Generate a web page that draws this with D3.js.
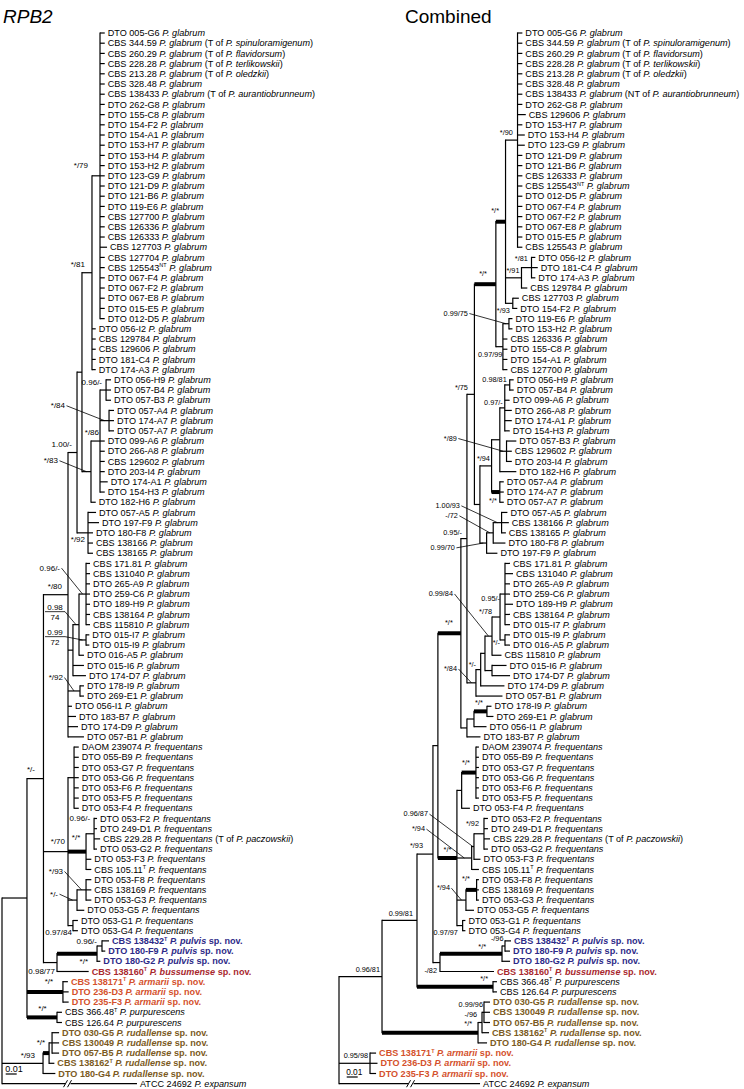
<!DOCTYPE html>
<html><head><meta charset="utf-8">
<script src="https://cdn.jsdelivr.net/npm/d3@7"></script>
<style>body{margin:0;background:#fff}svg{display:block}</style>
</head><body><svg id="c" width="744" height="1089"></svg>
<script>
// ---------------- DATA ----------------
const leavesRPB2 = [
"DTO 005-G6 _P. glabrum_","CBS 344.59 _P. glabrum_ (T of _P. spinuloramigenum_)","CBS 260.29 _P. glabrum_ (T of _P. flavidorsum_)",
"CBS 228.28 _P. glabrum_ (T of _P. terlikowskii_)","CBS 213.28 _P. glabrum_ (T of _P. oledzkii_)","CBS 328.48 _P. glabrum_",
"CBS 138433 _P. glabrum_ (T of _P. aurantiobrunneum_)","DTO 262-G8 _P. glabrum_","DTO 155-C8 _P. glabrum_","DTO 154-F2 _P. glabrum_",
"DTO 154-A1 _P. glabrum_","DTO 153-H7 _P. glabrum_","DTO 153-H4 _P. glabrum_","DTO 153-H2 _P. glabrum_","DTO 123-G9 _P. glabrum_",
"DTO 121-D9 _P. glabrum_","DTO 121-B6 _P. glabrum_","DTO 119-E6 _P. glabrum_","CBS 127700 _P. glabrum_","CBS 126336 _P. glabrum_",
"CBS 126333 _P. glabrum_","CBS 127703 _P. glabrum_","CBS 127704 _P. glabrum_","CBS 125543{NT} _P. glabrum_","DTO 067-F4 _P. glabrum_",
"DTO 067-F2 _P. glabrum_","DTO 067-E8 _P. glabrum_","DTO 015-E5 _P. glabrum_","DTO 012-D5 _P. glabrum_","DTO 056-I2 _P. glabrum_",
"CBS 129784 _P. glabrum_","CBS 129606 _P. glabrum_","DTO 181-C4 _P. glabrum_","DTO 174-A3 _P. glabrum_","DTO 056-H9 _P. glabrum_",
"DTO 057-B4 _P. glabrum_","DTO 057-B3 _P. glabrum_","DTO 057-A4 _P. glabrum_","DTO 174-A7 _P. glabrum_","DTO 057-A7 _P. glabrum_",
"DTO 099-A6 _P. glabrum_","DTO 266-A8 _P. glabrum_","CBS 129602 _P. glabrum_","DTO 203-I4 _P. glabrum_","DTO 174-A1 _P. glabrum_",
"DTO 154-H3 _P. glabrum_","DTO 182-H6 _P. glabrum_","DTO 057-A5 _P. glabrum_","DTO 197-F9 _P. glabrum_","DTO 180-F8 _P. glabrum_",
"CBS 138166 _P. glabrum_","CBS 138165 _P. glabrum_","CBS 171.81 _P. glabrum_","CBS 131040 _P. glabrum_","DTO 265-A9 _P. glabrum_",
"DTO 259-C6 _P. glabrum_","DTO 189-H9 _P. glabrum_","CBS 138164 _P. glabrum_","CBS 115810 _P. glabrum_","DTO 015-I7 _P. glabrum_",
"DTO 015-I9 _P. glabrum_","DTO 016-A5 _P. glabrum_","DTO 015-I6 _P. glabrum_","DTO 174-D7 _P. glabrum_","DTO 178-I9 _P. glabrum_",
"DTO 269-E1 _P. glabrum_","DTO 056-I1 _P. glabrum_","DTO 183-B7 _P. glabrum_","DTO 174-D9 _P. glabrum_","DTO 057-B1 _P. glabrum_",
"DAOM 239074 _P. frequentans_","DTO 055-B9 _P. frequentans_","DTO 053-G7 _P. frequentans_","DTO 053-G6 _P. frequentans_",
"DTO 053-F6 _P. frequentans_","DTO 053-F5 _P. frequentans_","DTO 053-F4 _P. frequentans_","DTO 053-F2 _P. frequentans_",
"DTO 249-D1 _P. frequentans_","CBS 229.28 _P. frequentans_ (T of _P. paczowskii_)","DTO 053-G2 _P. frequentans_",
"DTO 053-F3 _P. frequentans_","CBS 105.11{T} _P. frequentans_","DTO 053-F8 _P. frequentans_","CBS 138169 _P. frequentans_",
"DTO 053-G3 _P. frequentans_","DTO 053-G5 _P. frequentans_","DTO 053-G1 _P. frequentans_","DTO 053-G4 _P. frequentans_",
"CBS 138432{T} _P. pulvis_ sp. nov.","DTO 180-F9 _P. pulvis_ sp. nov.","DTO 180-G2 _P. pulvis_ sp. nov.",
"CBS 138160{T} _P. bussumense_ sp. nov.","CBS 138171{T} _P. armarii_ sp. nov.","DTO 236-D3 _P. armarii_ sp. nov.",
"DTO 235-F3 _P. armarii_ sp. nov.","CBS 366.48{T} _P. purpurescens_","CBS 126.64 _P. purpurescens_",
"DTO 030-G5 _P. rudallense_ sp. nov.","CBS 130049 _P. rudallense_ sp. nov.","DTO 057-B5 _P. rudallense_ sp. nov.",
"CBS 138162{T} _P. rudallense_ sp. nov.","DTO 180-G4 _P. rudallense_ sp. nov.","ATCC 24692 _P. expansum_"];

const leavesCombined = [
"DTO 005-G6 _P. glabrum_","CBS 344.59 _P. glabrum_ (T of _P. spinuloramigenum_)","CBS 260.29 _P. glabrum_ (T of _P. flavidorsum_)",
"CBS 228.28 _P. glabrum_ (T of _P. terlikowskii_)","CBS 213.28 _P. glabrum_ (T of _P. oledzkii_)","CBS 328.48 _P. glabrum_",
"CBS 138433 _P. glabrum_ (NT of _P. aurantiobrunneum_)","DTO 262-G8 _P. glabrum_","CBS 129606 _P. glabrum_","DTO 153-H7 _P. glabrum_",
"DTO 153-H4 _P. glabrum_","DTO 123-G9 _P. glabrum_","DTO 121-D9 _P. glabrum_","DTO 121-B6 _P. glabrum_","CBS 126333 _P. glabrum_",
"CBS 125543{NT} _P. glabrum_","DTO 012-D5 _P. glabrum_","DTO 067-F4 _P. glabrum_","DTO 067-F2 _P. glabrum_","DTO 067-E8 _P. glabrum_",
"DTO 015-E5 _P. glabrum_","CBS 125543 _P. glabrum_","DTO 056-I2 _P. glabrum_","DTO 181-C4 _P. glabrum_","DTO 174-A3 _P. glabrum_",
"CBS 129784 _P. glabrum_","CBS 127703 _P. glabrum_","DTO 154-F2 _P. glabrum_","DTO 119-E6 _P. glabrum_","DTO 153-H2 _P. glabrum_",
"CBS 126336 _P. glabrum_","DTO 155-C8 _P. glabrum_","DTO 154-A1 _P. glabrum_","CBS 127700 _P. glabrum_","DTO 056-H9 _P. glabrum_",
"DTO 057-B4 _P. glabrum_","DTO 099-A6 _P. glabrum_","DTO 266-A8 _P. glabrum_","DTO 174-A1 _P. glabrum_","DTO 154-H3 _P. glabrum_",
"DTO 057-B3 _P. glabrum_","CBS 129602 _P. glabrum_","DTO 203-I4 _P. glabrum_","DTO 182-H6 _P. glabrum_","DTO 057-A4 _P. glabrum_",
"DTO 174-A7 _P. glabrum_","DTO 057-A7 _P. glabrum_","DTO 057-A5 _P. glabrum_","CBS 138166 _P. glabrum_","CBS 138165 _P. glabrum_",
"DTO 180-F8 _P. glabrum_","DTO 197-F9 _P. glabrum_","CBS 171.81 _P. glabrum_","CBS 131040 _P. glabrum_","DTO 265-A9 _P. glabrum_",
"DTO 259-C6 _P. glabrum_","DTO 189-H9 _P. glabrum_","CBS 138164 _P. glabrum_","DTO 015-I7 _P. glabrum_","DTO 015-I9 _P. glabrum_",
"DTO 016-A5 _P. glabrum_","CBS 115810 _P. glabrum_","DTO 015-I6 _P. glabrum_","DTO 174-D7 _P. glabrum_","DTO 174-D9 _P. glabrum_",
"DTO 057-B1 _P. glabrum_","DTO 178-I9 _P. glabrum_","DTO 269-E1 _P. glabrum_","DTO 056-I1 _P. glabrum_","DTO 183-B7 _P. glabrum_",
"DAOM 239074 _P. frequentans_","DTO 055-B9 _P. frequentans_","DTO 053-G7 _P. frequentans_","DTO 053-G6 _P. frequentans_",
"DTO 053-F6 _P. frequentans_","DTO 053-F5 _P. frequentans_","DTO 053-F4 _P. frequentans_","DTO 053-F2 _P. frequentans_",
"DTO 249-D1 _P. frequentans_","CBS 229.28 _P. frequentans_ (T of _P. paczowskii_)","DTO 053-G2 _P. frequentans_",
"DTO 053-F3 _P. frequentans_","CBS 105.11{T} _P. frequentans_","DTO 053-F8 _P. frequentans_","CBS 138169 _P. frequentans_",
"DTO 053-G3 _P. frequentans_","DTO 053-G5 _P. frequentans_","DTO 053-G1 _P. frequentans_","DTO 053-G4 _P. frequentans_",
"CBS 138432{T} _P. pulvis_ sp. nov.","DTO 180-F9 _P. pulvis_ sp. nov.","DTO 180-G2 _P. pulvis_ sp. nov.",
"CBS 138160{T} _P. bussumense_ sp. nov.","CBS 366.48{T} _P. purpurescens_","CBS 126.64 _P. purpurescens_",
"DTO 030-G5 _P. rudallense_ sp. nov.","CBS 130049 _P. rudallense_ sp. nov.","DTO 057-B5 _P. rudallense_ sp. nov.",
"CBS 138162{T} _P. rudallense_ sp. nov.","DTO 180-G4 _P. rudallense_ sp. nov.","CBS 138171{T} _P. armarii_ sp. nov.",
"DTO 236-D3 _P. armarii_ sp. nov.","DTO 235-F3 _P. armarii_ sp. nov.","ATCC 24692 _P. expansum_"];

// topologies (leaf numbers refer to the leaf arrays; branch lengths in 0.001 substitutions/site)
const treeRPB2 = "((((((((1:4.3,2:4.3,3:4.3,4:4.3,5:4.3,6:4.3,7:4.3,8:4.3,9:4.3,10:4.3,11:4.3,12:4.3,13:4.3,14:4.3,15:4.3,16:4.3,17:4.3,18:4.3,19:4.3,20:4.3,21:4.3,22:6.4,23:4.3,24:4.3,25:4.3,26:4.3,27:4.3,28:4.3,29:4.3)Cl1:7.3,30:3.4,31:3.4,32:3.4,33:3.4,34:3.4)A:9.1,(((35:4.5,36:4.5,37:4.5)C1:5.5,(38:4.5,39:4.5,40:4.5)C3:8.2,41:4.3,42:4.3,43:4.3,44:4.3,45:7.0,46:4.3)C2:8.2,47:4.3)C:8.2)B:4.5,(48:7.3,49:10.0,50:4.5,51:4.5,52:4.5)E:10.0)D:8.2,(((53:3.6,54:3.6,55:3.6,56:3.6,57:3.6,58:3.6,59:3.6)G1:6.4,(60:3.0,61:3.0)G2:6.4,62:4.5)G3:5.5,63:10.0,64:11.8)G4:4.5,(65:3.6,66:3.6)H:10.9,67:3.6,68:7.3,69:9.1,70:14.5)F:22.3,((71:4.3,72:4.3,73:4.3,74:4.3,75:4.3,76:4.3,77:4.3)Fq1:5.5,((78:2.7,79:2.7,80:5.5,81:2.7)X:7.3,82:4.8,83:4.8)Fq2:16.4,((84:4.8,85:4.8,86:4.8)Y:8.2,87:6.6)Fq3:8.2,(88:4.5,89:4.5)Fq4:4.5)Fq:22.3,(((90:6.4,91:3.0)Ps:4.5,92:3.0)P:36.4,93:28.8)PB:12.3)Na:15.0,(94:4.5,95:5.2,96:5.2)Arm:32.7,(97:4.5,98:4.5)Pur:27.3)Nm:22.7,(((99:6.4,100:6.4,101:6.4)Rp:2.7,102:4.8)Rq:5.5,103:11.2)R1:37.3,104:122.7)root";

const treeCombined = "(((((((((((1:4.4,2:4.4,3:4.4,4:4.4,5:4.4,6:4.4,7:4.4,8:4.4,9:7.5,10:4.4,11:6.6,12:6.6,13:4.4,14:4.4,15:4.4,16:4.4,17:4.4,18:4.4,19:4.4,20:4.4,21:4.4,22:4.4)Ra:10.9,((23:3.5,24:5.7,25:3.5)M2:9.1,26:5.3)M1:14.5,(27:5.5,28:4.1)M3:6.6)M0:8.8,((29:3.2,30:3.2)M6:5.5,31:4.1,32:4.1,33:4.1,34:4.1)M5:6.4)M4:19.5,(((((35:3.6,36:3.6)N2:4.5,37:4.5,38:6.4,39:6.4,40:4.5)N3:4.5,(41:8.9,42:4.8,43:4.8)N4:6.1,44:15.0)N5:7.5,(45:3.6,46:3.6,47:3.6)N7:7.5)N6:10.6,(((48:5.3,49:6.6,50:3.9)O1:7.6,51:11.1)O2:6.0,52:9.8)O3:6.1)N8:5.0)M7:6.8,((((((53:4.5,54:7.3,55:4.5,56:4.5,57:7.3,58:4.5,59:4.5)K1:4.5,(60:4.5,61:4.5)K2:4.5)K3:7.3,62:8.6)K4:6.4,(63:13.2,64:16.4)K5:6.4)K6:3.9,65:21.6)K7:4.3,66:24.1)K8:8.2)Q1:5.5,(((67:4.1,68:5.9)L1:11.8,69:11.4)L2:6.4,70:12.3)L3:5.5)G:20.9,(((71:2.7,72:2.7,73:2.7,74:2.7,75:2.7,76:2.7)S1:13.0,77:7.5)S2:4.3,(((78:3.6,79:3.6,80:5.5,81:3.6)S3:9.1,82:5.9)S4:2.1,83:6.6)S5:13.4,((84:2.1,85:2.1,86:2.1)S6a:9.7,87:7.3)S6:8.2,(88:2.5,89:2.5)S7:5.2)Fr:17.3)NcA:4.5,(((90:5.5,91:4.5)P2:2.7,92:7.3)P1:56.4,93:49.1)N82:6.4)Nc3:14.5,(94:3.6,95:3.6)Pur:69.1)Nc2:31.8,(((96:5.5,97:5.5,98:5.5)R3:1.8,99:6.4)R2:3.6,100:8.2)R1:87.3)Nc1:39.1,(101:5.5,102:6.8,103:5.5)Arm:28.2,104:128.2)root";

// support values (posterior probability / bootstrap)
const supportRPB2 = {Cl1:"*/79",A:"*/81",C1:"0.96/-",C3:"*/84",C2:"*/86",C:"*/83",D:"1.00/-",E:"*/92",F:"*/80",
  G1:"0.96/-",G3:"0.98/74",G2:"0.99/72",H:"*/92",Fq:"*/70",Fq2:"*/*",X:"0.96/-",Y:"*/93",Fq3:"*/-",Fq4:"0.97/84",
  Ps:"0.96/-",P:"*/*",PB:"0.98/77",Na:"*/-",Arm:"*/*",Pur:"*/*",Rq:"*/*",R1:"*/93"};
const supportCombined = {Ra:"*/90",M0:"*/*",M1:"*/91",M2:"*/81",M3:"*/93",M4:"*/*",M6:"0.99/75",M5:"0.97/99",M7:"*/75",
  N2:"0.98/81",N3:"0.97/-",N4:"*/89",N6:"*/94",N7:"*/*",O1:"1.00/93",O2:"-/72",Q1:"0.95/-",O3:"0.99/70",K1:"0.95/-",
  K3:"*/78",K4:"0.99/84",K2:"*/-",K7:"*/-",K8:"*/84",L1:"*/*",G:"*/*",S1:"*/*",S3:"*/92",S4:"0.96/87",S5:"*/94",
  Fr:"*/*",S6a:"*/*",S6:"*/94",S7:"0.97/97",Nc3:"*/93",P1:"*/*",P2:"-/96",N82:"-/82",Nc2:"0.99/81",Pur:"*/*",
  Nc1:"0.96/81",R1:"*/*",R2:"-/96",R3:"0.99/96",Arm:"0.95/98"};
const titles = ["RPB2","Combined"];
const scaleBarValue = 0.01;

// ---------------- LAYOUT (label placement relative to node) ----------------
const placeRPB2 = {Cl1:[-12,-7.5,"end"],A:[-7,-6,"end"],C1:[-4,-5,"end"],C3:[-44,-12.5,"end",1],C2:[-1,-6,"end"],
  C:[-33,-8.5,"end",1],D:[-5,-6,"end"],E:[-3,9,"end"],F:[-6,-6,"end"],G1:[-26,-23.5,"end",1],G3:[-14,-13,"stack"],
  G2:[-21,-3.3,"stack"],H:[-17,-11,"end",1],Fq:[-3,-7.6,"end"],Fq2:[-10,-12,"middle"],X:[-4,-13,"end"],
  Y:[-23,-16,"end",1],Fq3:[-19,-3.5,"end",1],Fq4:[-1,9,"end"],Ps:[-5,-2,"end"],P:[-9,10,"end"],PB:[-2,11,"end"],
  Na:[-8.5,-7,"end"],Arm:[-14,-7.4,"middle"],Pur:[-14.5,-6,"middle"],Rq:[-4,-8,"end"],R1:[-8,-5,"end"]};
const placeCombined = {Ra:[-4.7,-5.5,"end"],M0:[-10.4,-9,"middle"],M1:[-2,-5,"end"],M2:[-3.7,-7,"end"],M3:[-3,9.5,"end"],
  M4:[-9,-8,"end"],M6:[-41,-8,"end",1],M5:[-0.5,10,"end"],M7:[-6.5,-4.5,"end"],N2:[-3,-3.3,"end"],N3:[-2,-3.3,"end"],
  N4:[-49.7,-10.5,"end",1],N6:[-1.7,-5.2,"end"],N7:[-3,10.7,"end"],O1:[-41.7,-14.6,"end",1],O2:[-35.3,-14.8,"end",1],
  Q1:[-5,-3.6,"end"],O3:[-31.7,7,"end",1],K1:[-5,7,"end"],K3:[-8,-3,"end"],K4:[-39,-40,"end",1],K2:[-5,5,"end"],
  K7:[-4.7,-3,"end"],K8:[-19,-11.7,"end",1],L1:[-8,-6.2,"middle"],G:[-12,-8,"middle"],S1:[-10,-7.3,"middle"],
  S3:[-5,-7.4,"end"],S4:[-46,-30.2,"end",1],S5:[-46.7,-26.7,"end",1],Fr:[-9.5,-6,"middle"],S6a:[-10.7,-8.5,"middle"],
  S6:[-16,-9.7,"end",1],S7:[-4.7,9.8,"end"],Nc3:[-10,-5.8,"end"],P1:[-16,-5,"end"],P2:[-1.5,-4.6,"end"],
  N82:[-3,10.8,"end"],Nc2:[-4,-4.1,"end"],Pur:[-5,-5.4,"end"],Nc1:[-2,-4.8,"end"],R1:[-6,-6.4,"end"],
  R2:[-5,-5.2,"end"],R3:[-1,-5,"end"],Arm:[-2,-5.7,"end"]};

const newSpeciesColor = {pulvis:"#2d2a87", bussumense:"#a8282e", armarii:"#d4512c", rudallense:"#7b5a22"};
const FONT = "'Liberation Sans', Arial, Helvetica, sans-serif";

// ---------------- CODE ----------------
function parseNewick(s) {
  s = s.replace(/\s+/g, "");
  let i = 0;
  function node() {
    const n = {children: null, name: "", length: 0};
    if (s[i] === "(") {
      i++; n.children = [];
      for (;;) {
        n.children.push(node());
        if (s[i] === ",") { i++; continue; }
        if (s[i] === ")") { i++; break; }
        throw new Error("bad newick at " + i);
      }
    }
    let name = "";
    while (i < s.length && !":,();".includes(s[i])) name += s[i++];
    n.name = name;
    if (s[i] === ":") {
      i++; let num = "";
      while (i < s.length && !",();".includes(s[i])) num += s[i++];
      n.length = +num;
    }
    return n;
  }
  return node();
}

const svg = d3.select("#c");

function richText(sel, str, size) {
  const parts = str.split(/(_[^_]+_|\{[^}]+\})/).filter(p => p.length);
  let shifted = false;
  parts.forEach(p => {
    const t = sel.append("tspan");
    if (shifted) { t.attr("dy", size * 0.38); shifted = false; }
    if (p[0] === "_") t.text(p.slice(1, -1)).attr("font-style", "italic");
    else if (p[0] === "{") { t.text(p.slice(1, -1)).attr("font-size", size * 0.6).attr("dy", -size * 0.38); shifted = true; }
    else t.text(p);
  });
}

function drawTree(cfg) {
  const g = svg.append("g");
  const root = d3.hierarchy(parseNewick(cfg.newick), d => d.children);
  root.eachBefore(d => { d.len = d.parent ? d.parent.len + d.data.length : 0; });
  const x = d3.scaleLinear().domain([0, 10]).range([cfg.x0, cfg.x0 + cfg.pxPerHundredth]);
  const y = d3.scaleLinear().domain([1, cfg.leaves.length]).range([cfg.yTop, cfg.yBottom]);
  root.eachAfter(d => {
    d.px = x(d.len);
    d.py = d.children ? (d.children[0].py + d.children[d.children.length - 1].py) / 2 : y(+d.data.name);
  });
  const lineW = 1.2;
  const isThick = d => cfg.support[d.data.name] === "*/*";
  root.descendants().filter(d => d.children).forEach(d => {
    g.append("line").attr("x1", d.px).attr("x2", d.px)
      .attr("y1", d.children[0].py - lineW / 2).attr("y2", d.children[d.children.length - 1].py + lineW / 2)
      .attr("stroke", "#000").attr("stroke-width", lineW);
  });
  root.descendants().filter(d => d.parent).forEach(d => {
    g.append("line").attr("x1", d.parent.px).attr("x2", d.px).attr("y1", d.py).attr("y2", d.py)
      .attr("stroke", "#000").attr("stroke-width", isThick(d) ? 4 : lineW);
  });
  // break on outgroup branch
  const out = root.leaves().find(d => +d.data.name === cfg.leaves.length);
  const bx = x(cfg.breakAt), by = out.py;
  g.append("rect").attr("x", bx - 2.5).attr("y", by - 2).attr("width", 5).attr("height", 4).attr("fill", "#fff");
  [-3, 1].forEach(o => g.append("line").attr("x1", bx + o - 1.5).attr("y1", by + 3.5).attr("x2", bx + o + 2.5).attr("y2", by - 3.5)
      .attr("stroke", "#000").attr("stroke-width", 1));
  // leaf labels
  root.leaves().forEach(d => {
    const str = cfg.leaves[+d.data.name - 1];
    const sp = Object.keys(newSpeciesColor).find(k => str.includes(k));
    const t = g.append("text").attr("x", d.px + 3).attr("y", d.py + 3.2)
      .attr("font-family", FONT).attr("font-size", 9.1)
      .attr("fill", sp ? newSpeciesColor[sp] : "#000").attr("font-weight", sp ? "bold" : "normal");
    richText(t, str, 9.1);
  });
  // support labels
  root.descendants().filter(d => cfg.support[d.data.name]).forEach(d => {
    const lab = cfg.support[d.data.name];
    const [dx, dy, anchor, leader] = cfg.place[d.data.name] || [-3, -3, "end"];
    const lx = d.px + dx, ly = d.py + dy;
    const tx = (d.parent.px + d.px) / 2;
    if (anchor === "stack") {
      const [a, b] = lab.split("/");
      g.append("text").attr("x", lx - 10).attr("y", ly - 1.6).attr("text-anchor", "middle")
        .attr("font-family", FONT).attr("font-size", cfg.supSize).text(a);
      g.append("text").attr("x", lx - 10).attr("y", ly + 8).attr("text-anchor", "middle")
        .attr("font-family", FONT).attr("font-size", cfg.supSize).text(b);
      g.append("polyline").attr("points", `${lx - 20},${ly} ${lx},${ly} ${tx},${d.py}`)
        .attr("fill", "none").attr("stroke", "#000").attr("stroke-width", 0.8);
      return;
    }
    g.append("text").attr("x", lx).attr("y", ly).attr("text-anchor", anchor)
      .attr("font-family", FONT).attr("font-size", cfg.supSize).text(lab);
    if (leader) {
      g.append("line").attr("x1", lx + 1.5).attr("y1", ly - cfg.supSize * 0.3).attr("x2", tx).attr("y2", d.py)
        .attr("stroke", "#000").attr("stroke-width", 0.8);
    }
  });
  // scale bar
  const sb0 = cfg.scaleX, sb1 = cfg.scaleX + (x(scaleBarValue * 1000) - x(0));
  g.append("line").attr("x1", sb0).attr("x2", sb1).attr("y1", cfg.scaleY).attr("y2", cfg.scaleY)
    .attr("stroke", "#000").attr("stroke-width", 1.2);
  g.append("text").attr("x", sb0 - 0.5).attr("y", cfg.scaleY - 2.5).attr("font-family", FONT)
    .attr("font-size", cfg.supSize + 1).text(String(scaleBarValue));
  // title
  g.append("text").attr("x", cfg.titleX).attr("y", 23).attr("font-family", FONT).attr("font-size", 19)
    .attr("font-style", cfg.titleItalic ? "italic" : "normal").text(cfg.title);
}

drawTree({newick: treeRPB2, leaves: leavesRPB2, support: supportRPB2, place: placeRPB2,
  x0: 2, pxPerHundredth: 11, yTop: 33, yBottom: 1083.7, breakAt: 60, supSize: 8,
  scaleX: 5.7, scaleY: 1074, title: titles[0], titleX: 3, titleItalic: true});
drawTree({newick: treeCombined, leaves: leavesCombined, support: supportCombined, place: placeCombined,
  x0: 339, pxPerHundredth: 11, yTop: 33, yBottom: 1083.7, breakAt: 65.5, supSize: 7.3,
  scaleX: 346.7, scaleY: 1077, title: titles[1], titleX: 405, titleItalic: false});
</script></body></html>
